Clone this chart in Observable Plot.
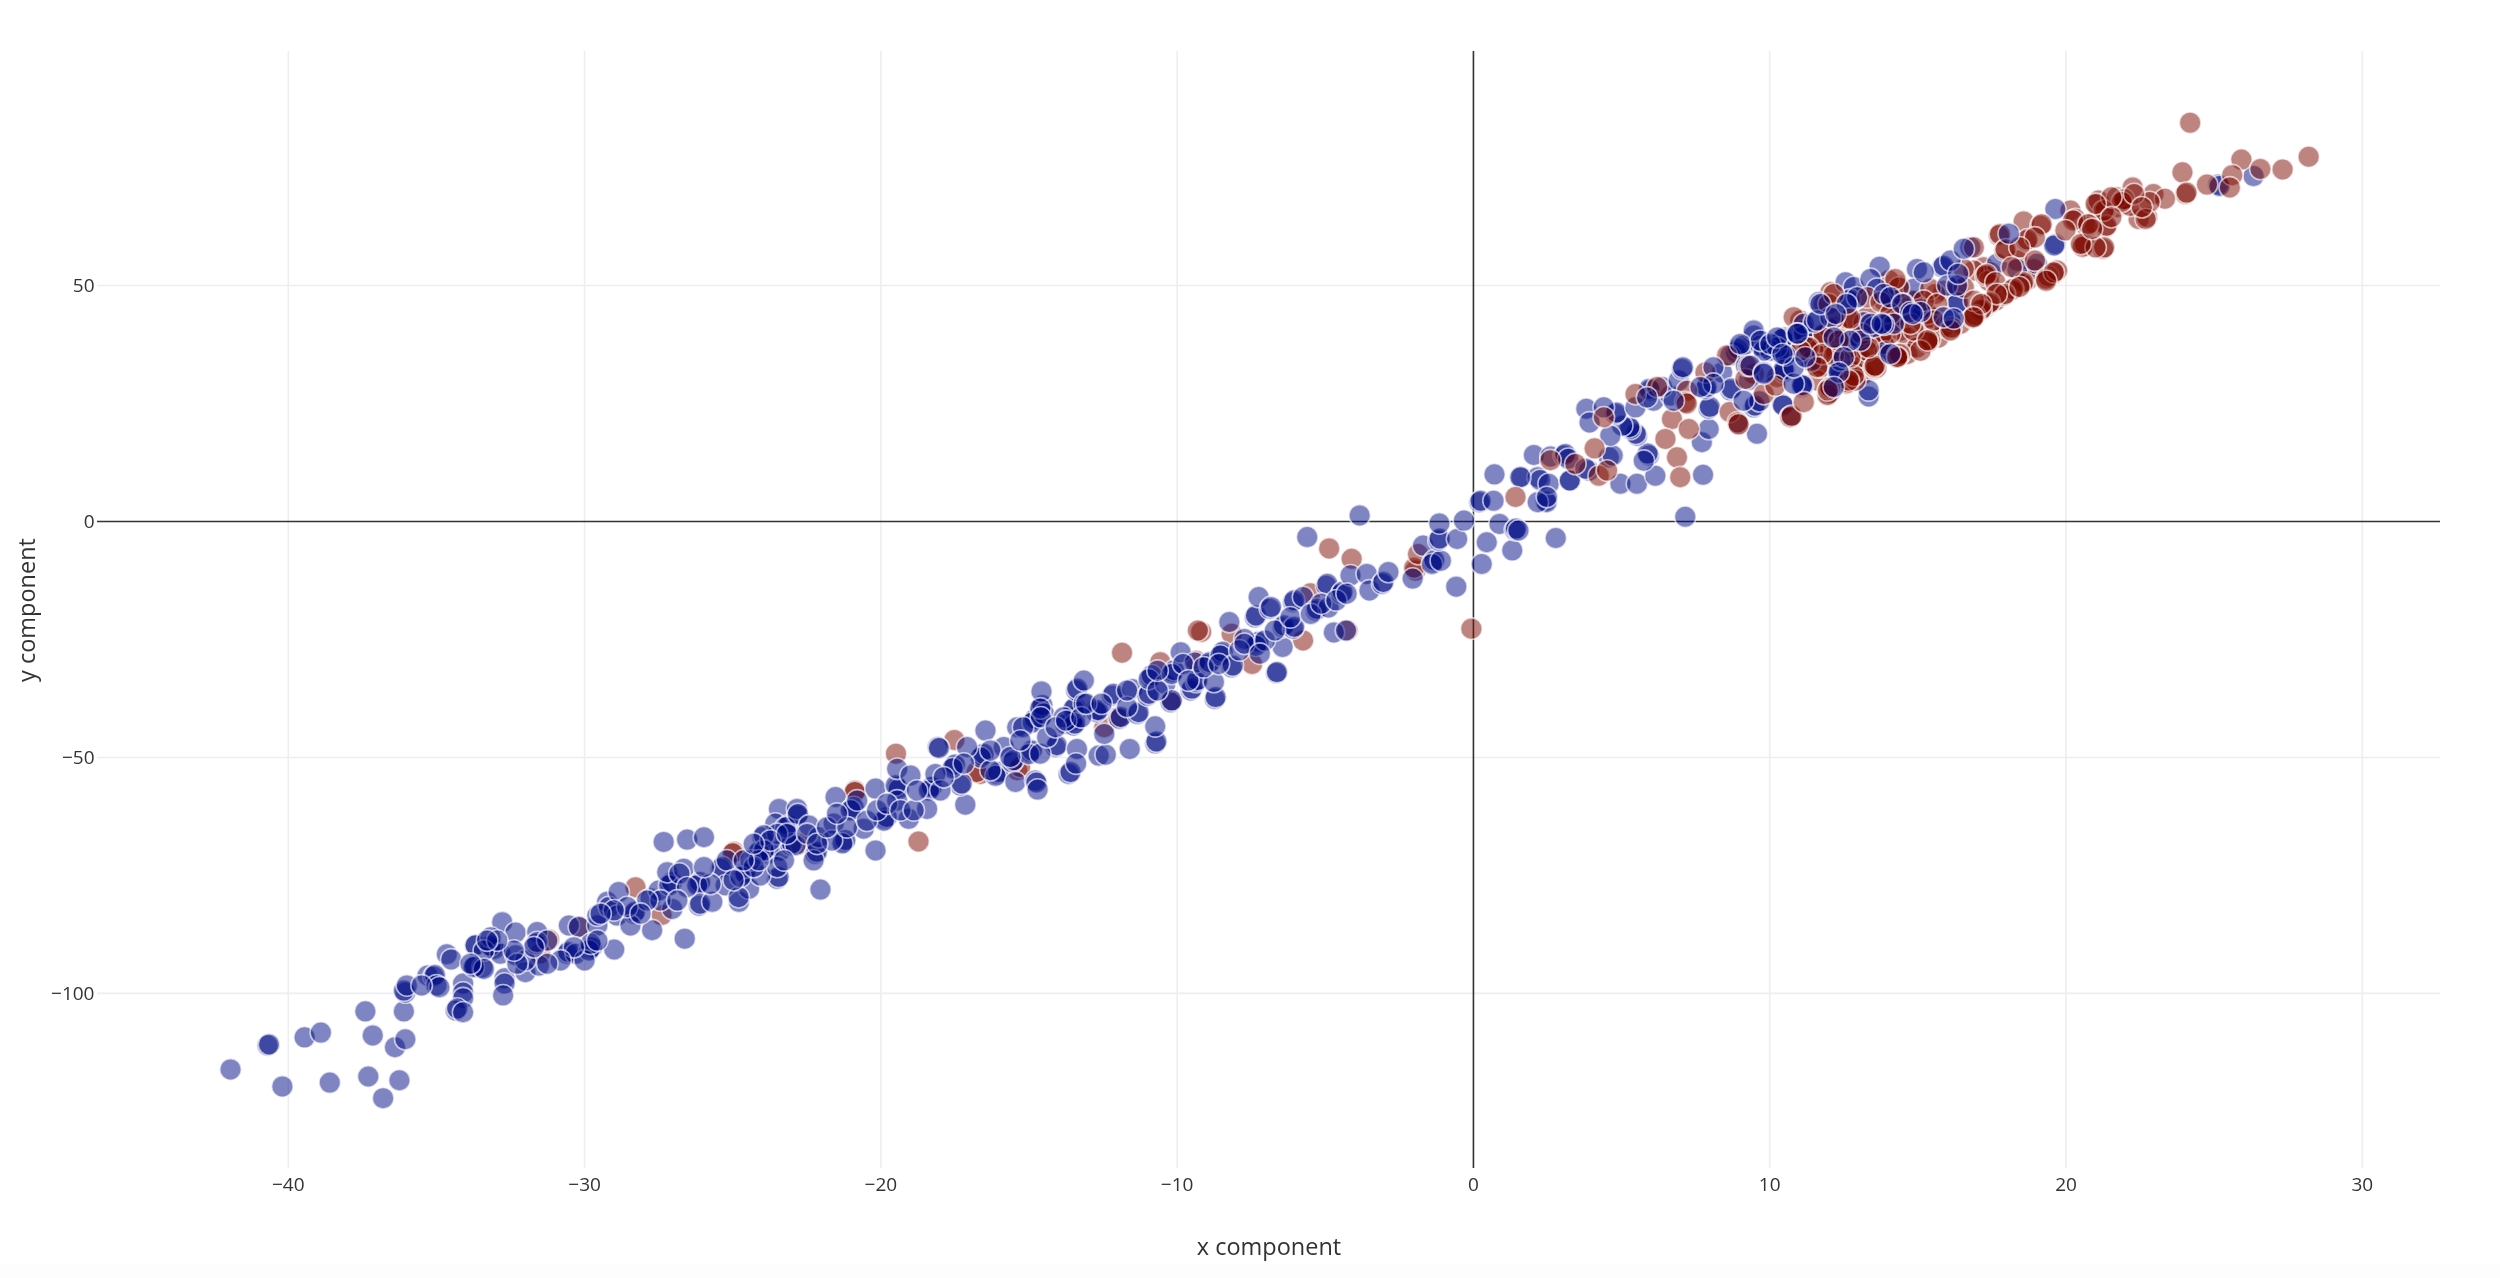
<!DOCTYPE html>
<html><head><meta charset="utf-8">
<script src="https://cdn.jsdelivr.net/npm/d3@7"></script>
<script src="https://cdn.jsdelivr.net/npm/@observablehq/plot@0.6"></script>
<style>html,body{margin:0;padding:0;overflow:hidden;height:1278px;background:linear-gradient(#fff 0,#fff 1265px,#fdfdfd 1265px,#fdfdfd 1278px)}svg{display:block;filter:blur(0.6px)}</style>
</head><body><div id="chart"></div>
<script>
const xTicks=[-40,-30,-20,-10,0,10,20,30];
const yTicks=[-100,-50,0,50];
const xDomain=[-46.44,32.64];
const yDomain=[-137.1,99.6];
const xTitle="x component", yTitle="y component";
const redEarly=[[-31.2,-88.6],[-31.5,-91.5],[-30.2,-85.9],[-28.28,-77.5],[-27.4,-83.4],[-24.96,-70],[-22.72,-68.3],[-25,-70.3],[-20.87,-57],[-20.88,-57.3],[-19.49,-49.2],[-18.73,-67.8],[-17.52,-46.3],[-16.64,-53.5],[-16.77,-53.1],[-15.4,-52.7],[-15.3,-52],[-12.46,-43.6],[-12,-41.5],[-11.86,-27.8],[-10.57,-29.8],[-10.2,-38],[-9.36,-29.5],[-9.19,-23.4],[-9.3,-23.1],[-8.16,-23.8],[-7.47,-30.2],[-5.75,-25.2],[-5.5,-15.2],[-4.87,-5.7],[-4.11,-7.9],[-4.25,-23.1],[-1.96,-10.4],[-2,-9.8],[-1.87,-6.9],[-0.07,-22.7]];
const blue=[[-41.95,-116.1],[-40.2,-119.7],[-40.7,-111],[-40.65,-110.8],[-39.45,-109.3],[-38.9,-108.3],[-38.6,-118.9],[-37.4,-103.8],[-37.15,-108.9],[-37.3,-117.6],[-36.8,-122.2],[-36.25,-118.4],[-36.4,-111.4],[-36.05,-109.7],[-36.1,-103.8],[-36.05,-99.8],[-36.1,-99.4],[-36,-98.3],[-35.3,-96.2],[-35.1,-96.4],[-35.05,-96.1],[-35,-98.3],[-34.9,-98.7],[-35.5,-98.3],[-34.65,-91.7],[-34.5,-92.8],[-33.7,-89.8],[-33.75,-94.5],[-33.7,-94.2],[-33.45,-94.5],[-34.1,-97.9],[-34.1,-99.8],[-34.1,-101],[-34.35,-103.6],[-34.3,-103.2],[-34.1,-104],[-32.7,-96.8],[-32.7,-97.9],[-32.75,-100.4],[-32.78,-84.9],[-32.33,-87.1],[-33.68,-89.8],[-33.12,-90.2],[-33.05,-90.6],[-33.18,-89.9],[-33.17,-88.1],[-32.84,-91.6],[-33.4,-90.9],[-32.33,-91.9],[-33.74,-94.4],[-33.4,-94.8],[-32,-95.5],[-31.54,-94.1],[-32,-93],[-31.6,-87],[-31.65,-89.5],[-31.6,-89.1],[-31.26,-88.8],[-30.59,-91.6],[-30.55,-91.2],[-30.3,-91.6],[-30.53,-85.6],[-30.19,-85.9],[-29.8,-90.5],[-29.75,-90.2],[-29.85,-90.9],[-29,-90.7],[-30,-93],[-29.57,-85.6],[-29.57,-83.5],[-29.24,-80.6],[-29.18,-81.7],[-28.9,-83.5],[-28.85,-78.5],[-28.34,-83.1],[-28.3,-82.7],[-28.45,-85.6],[-27.72,-86.6],[-27.77,-79.9],[-27.5,-78.2],[-27.1,-76.8],[-27.05,-76.4],[-27.15,-77.1],[-27.21,-74.3],[-26.65,-73.6],[-26.8,-74.6],[-27.04,-82.1],[-26.14,-76.8],[-26.1,-76.4],[-26.2,-77.1],[-26.14,-81.4],[-26.1,-81],[-25.69,-80.6],[-26.62,-88.4],[-27.33,-67.9],[-26.54,-67.4],[-25.97,-66.9],[-25.41,-73.6],[-25.36,-73.2],[-24.79,-80.6],[-24.62,-74.3],[-24.57,-74.6],[-24.45,-77.8],[-25.24,-77.1],[-24,-66.9],[-23.84,-70],[-23.8,-70.4],[-23.9,-69.7],[-24.17,-70.4],[-23.5,-75.7],[-23.45,-75.3],[-23.39,-69.7],[-23.44,-60.9],[-23.56,-64],[-23.16,-64.8],[-23.12,-64.4],[-22.82,-62.3],[-23.05,-68.6],[-23,-68.2],[-22.88,-68.6],[-24.8,-79.6],[-24.07,-75],[-24.12,-70],[-23.22,-64.8],[-22.83,-60.9],[-22.8,-62],[-22.21,-70.4],[-22.16,-70],[-22.27,-71.8],[-22.43,-64.4],[-22.1,-66.9],[-22.04,-78],[-21.53,-58.4],[-21.59,-64],[-21.25,-67.9],[-21.2,-67.5],[-21.3,-68.2],[-21.65,-67.6],[-20.97,-60.9],[-20.92,-60.5],[-21.02,-61.2],[-20.58,-65.1],[-20.18,-56.6],[-20.18,-69.7],[-19.85,-63],[-19.8,-62.6],[-19.9,-63.4],[-19.45,-56.3],[-19.4,-56.7],[-19.5,-55.9],[-19.45,-59.1],[-19.06,-63],[-19.45,-52.4],[-19,-53.8],[-18.33,-56.6],[-18.28,-56.2],[-18.38,-57],[-18.44,-60.9],[-17.15,-60],[-17.32,-55.9],[-17.27,-55.5],[-17.54,-51.9],[-17.5,-51.5],[-17.58,-52.3],[-18.08,-47.8],[-18.04,-48],[-18.16,-53.5],[-16.47,-44.3],[-16.58,-49.6],[-16.53,-49.2],[-16.63,-50],[-17.09,-47.8],[-16.08,-53.5],[-16.03,-53.1],[-16.13,-53.9],[-15.85,-47.8],[-15.57,-51],[-15.52,-50.6],[-15.4,-43.6],[-14.84,-42.2],[-14.8,-41.8],[-14.88,-42.6],[-14.95,-48.9],[-14.9,-48.5],[-15,-49.3],[-15.46,-55.2],[-14.79,-54.9],[-14.75,-55.3],[-14.71,-56.8],[-14.11,-47.8],[-14.06,-47.4],[-13.66,-53.5],[-13.6,-53.1],[-13.38,-48.2],[-13.49,-41.8],[-13.44,-41.4],[-13.54,-42.2],[-13.77,-42.9],[-13.44,-39.3],[-12.76,-40],[-12.65,-49.6],[-15.2,-43.6],[-14.6,-39.3],[-14.55,-38.9],[-14.58,-36],[-13.5,-39.7],[-13.5,-43.2],[-13.45,-42.8],[-13.41,-35.8],[-13.37,-35.4],[-13.15,-33.7],[-13.41,-51.3],[-12.41,-49.4],[-11.6,-48.2],[-10.74,-47],[-10.7,-46.6],[-10.74,-43.4],[-12.72,-40.4],[-12.67,-40],[-12.2,-36.9],[-12.15,-36.5],[-11.95,-41.8],[-11.9,-41.4],[-12.46,-45],[-11.34,-40.8],[-11.3,-40.4],[-11.52,-35.5],[-11,-36.9],[-10.95,-36.5],[-10.91,-33],[-10.86,-32.6],[-10.96,-33.4],[-10.4,-34.4],[-10.14,-31.9],[-10.1,-31.5],[-10.18,-32.3],[-10.22,-38.3],[-10.18,-37.9],[-9.54,-35.8],[-9.5,-35.4],[-9.36,-34],[-9.32,-33.6],[-8.73,-37.6],[-8.7,-37.2],[-8.76,-34],[-9.88,-27.7],[-9.4,-29.9],[-8.93,-30.2],[-8.9,-29.8],[-8.5,-28],[-8.46,-27.6],[-8.54,-28.4],[-8.16,-30.9],[-8.12,-30.5],[-8.24,-21.3],[-7.3,-25.9],[-7.26,-25.5],[-7.34,-26.3],[-7.73,-24.9],[-7.38,-20.3],[-7.34,-19.9],[-7.25,-16],[-6.66,-32.1],[-6.63,-31.9],[-6.87,-18.5],[-6.83,-18.1],[-6.44,-26.6],[-6.44,-22.4],[-6.4,-22],[-6.09,-22.7],[-6.05,-22.3],[-6.09,-17.1],[-6.05,-16.7],[-5.75,-16],[-5.32,-18.9],[-5.28,-18.5],[-4.97,-13.6],[-4.93,-13.2],[-4.89,-18.2],[-4.46,-15.3],[-4.42,-14.9],[-4.71,-23.5],[-4.3,-23.1],[-4.15,-11.4],[-3.6,-11.1],[-3.51,-14.6],[-3.08,-13.2],[-3.04,-12.8],[-2.87,-10.7],[-5.61,-3.3],[-3.84,1.3],[-1.7,-5.1],[-1.36,-8.6],[-1.32,-8.2],[-1.4,-9],[-1.1,-8.3],[-2.05,-12.1],[-1.18,-4],[-1.14,-3.6],[-1.15,-0.4],[-0.55,-3.7],[-0.32,0.2],[-0.58,-13.8],[0.28,-9],[0.2,4.1],[0.24,4.4],[0.68,4.4],[0.45,-4.4],[0.88,-0.5],[1.31,-6.1],[1.4,-1.8],[1.44,-1.5],[1.52,-1.9],[2.78,-3.5],[0.71,10],[1.62,9.4],[2.17,9.4],[2.25,8.8],[2.43,4.4],[2.47,4.1],[2.17,4.1],[3.26,8.7],[2.04,14.1],[2.6,13.8],[3.05,14],[3.1,14.3],[3.2,13.3],[3.9,10.8],[1.58,9.4],[2.54,8],[2.48,5.2],[3.25,8.7],[3.78,11.2],[4.57,13.6],[4.7,14],[4.96,8],[5.52,8],[6.14,9.7],[5.92,14],[5.88,14.4],[5.75,12.9],[7.75,9.9],[7.71,16.8],[7.94,19.6],[7.94,23.9],[7.98,24.3],[5.52,18.2],[5.48,18.6],[5.3,19.6],[5.26,20],[5.02,20.3],[4.62,18.2],[4.79,22.8],[4.83,23.1],[3.81,23.9],[3.92,21],[4.4,24.2],[5.47,24.2],[5.97,27.8],[5.93,28.1],[6.08,25.6],[6.65,26.7],[6.37,28.5],[6.93,29.9],[7.04,32.3],[7.07,32.7],[7.83,28.1],[7.87,28.5],[8.39,31.6],[8.67,27.8],[8.71,28.2],[9.46,39.4],[9.46,24.2],[9.5,24.6],[9.65,25.5],[10.42,24.9],[10.45,24.6],[9.57,18.6],[13.34,26.5],[8.9,36.2],[8.86,35.8],[8.94,36.6],[8.67,35.2],[9.12,37.3],[9.8,36.9],[10.3,35.9],[10.35,36.2],[10.47,31.6],[10.51,32],[10.53,39],[11.09,28.5],[11.13,28.8],[11.15,40.5],[10.6,35.6],[12.38,32],[7.15,1],[8.93,20.7],[10.69,22.2],[9.3,30],[9.2,33],[13.71,54],[14.97,53.5],[15.82,53.9],[15.87,54.2],[19.64,66.2],[19.64,58.8],[19.6,58.5],[12.56,50.7],[12.84,49.7],[12.67,46.8],[12.71,47.1],[11.66,46.5],[13.4,51.4],[14.86,49.3],[13.62,49.3],[16.32,46.1],[16.36,46.4],[14.86,44],[13.85,41.9],[16.1,42.6],[10.87,39.8],[10.47,39],[10.43,38.7],[11.15,39.8],[9.69,37.3],[10.02,36.2],[10.47,32.2],[11.09,28.9],[9.46,40.5],[12.33,32],[13.34,27.8],[18.35,53.5],[19.02,54.6],[17.67,54.6],[16.77,58.1],[13,39],[13.17,42.2],[12.39,34.1],[14.1,47.5],[15.1,45],[12,41],[11.4,34],[13.9,36],[26.33,73.2],[25.14,71.4],[25.18,71.1]];
const blueMore=[[-23.5,-66.2],[-23.95,-66.5],[-24.4,-71.8],[-24.74,-75.3],[-25.75,-76.8],[-25.2,-71.8],[-25.97,-73.2],[-26.54,-77.5],[-27.44,-80.3],[-26.87,-80.3],[-27.89,-80.3],[-28.56,-81.7],[-28.11,-83.1],[-29.01,-82.4],[-29.46,-83.1],[-29.8,-89.5],[-29.57,-88.8],[-30.36,-90.2],[-30.81,-93],[-31.26,-93.7],[-31.71,-90.2],[-32.27,-93.7],[-32.39,-90.9],[-32.95,-88.8],[-33.29,-88.8],[-33.85,-93.7],[-23.95,-69.7],[-24.29,-73.2],[-23.5,-73.2],[-23.27,-71.8],[-24.12,-71.8],[-23.73,-67.6],[-24.63,-71.8],[-24.97,-76],[-24.29,-68.3],[-23.17,-66.2],[-22.49,-66.2],[-22.15,-68.3],[-21.82,-64.8],[-21.14,-64.8],[-20.47,-63.4],[-20.13,-61.2],[-20.8,-59.1],[-21.48,-61.9],[-19.79,-59.8],[-19.34,-61.2],[-18.89,-61.2],[-18.78,-57],[-17.99,-57],[-17.88,-54.2],[-17.2,-51.3],[-16.3,-52.7],[-16.3,-48.5],[-15.63,-49.9],[-15.29,-46.4],[-14.62,-49.2],[-14.39,-45.7],[-14.5,-40.7],[-13.83,-41.5],[-14.62,-39.6],[-13.15,-38.6],[-14.6,-41.5],[-14.1,-43.6],[-13.75,-42.2],[-13.24,-41.5],[-13.07,-38.6],[-12.55,-38.6],[-11.69,-39.3],[-11.69,-35.8],[-10.66,-35.8],[-10.66,-31.6],[-9.8,-30.2],[-9.62,-33.7],[-9.11,-30.9],[-8.59,-30.2],[-7.9,-27.3],[-7.73,-25.9],[-7.04,-25.2],[-6.7,-23.1],[-6.18,-20.3],[-5.49,-19.6],[-5.14,-17.4],[-4.63,-16.7],[-4.28,-15.3],[-7.21,-28],[9.8,36.2],[10.25,36.9],[10.53,35.2],[9.69,38.3],[9.35,33],[9.8,31.6],[10.81,29.2],[11.15,41.9],[11.49,42.2],[12.05,43.3],[12.95,47.5],[13.85,48.2],[14.07,47.5],[14.47,46.1],[14.75,44.4],[15.09,44.4],[15.87,43.3],[16.21,43],[15.2,52.8],[16.1,55.3],[15.99,50],[16.32,50],[18.07,61],[16.55,57.8],[13.51,41.2],[13.06,38.3],[14.19,41.9],[12.72,38.3],[14.07,35.5],[12.5,34.8],[12.33,31.6],[12.16,28.5],[9,37.6],[10.02,37.6],[10.25,39],[10.92,39.8],[10.81,32.7],[12.16,39],[13.85,41.7],[13.4,41.9],[11.6,42.6],[12.6,46.1],[11.71,46.1],[9.8,31.3],[9.12,25.6],[8.1,32.7],[8.1,29.2],[7.66,28.5],[5.86,26.3],[6.76,25.6],[16.36,52.5],[14.82,44],[13.78,41.9],[12.23,44],[10.94,39.8],[10.43,35.5],[11.2,34.8]];
const redLate=[[2.6,13],[3.44,12.2],[1.42,5.2],[4.09,15.5],[4.23,9.7],[4.51,10.8],[4.4,22.1],[5.47,27],[6.2,28.5],[7.83,31.6],[7.21,27.7],[7.15,25.3],[7.2,25],[6.7,21.7],[6.48,17.5],[7.27,19.6],[6.87,13.6],[6.98,9.4],[8.65,23.2],[8.92,21],[8.95,20.6],[9.18,30.2],[9.29,33],[9.8,27],[10.7,22.1],[10.74,22.4],[11.15,25.3],[11.99,27],[12.03,27.3],[11.95,26.8],[12.61,29.2],[12.65,29.5],[12.89,29.9],[13.56,32.3],[13.6,32.6],[14.3,35.2],[14.34,35.5],[11.82,39.8],[12.66,42.9],[11.26,36.9],[12.16,35.2],[13.11,39.8],[12.33,38.7],[13.28,36.2],[10.81,43.3],[11.99,46.1],[10.19,28.8],[8.56,35.2],[21.95,67.3],[21.1,68],[21.33,65.9],[22.17,66.9],[21.72,68.7],[22.74,64.5],[21.33,62.4],[21.37,62.7],[20.71,62.4],[20.32,64.1],[20.6,58.5],[20.64,58.8],[20.56,58.2],[21.25,57.8],[21.29,58.1],[18.57,63.6],[19.14,62.7],[19.18,63],[18.66,59.5],[18.7,59.8],[17.73,60.6],[17.77,60.9],[17.92,57.4],[17.96,57.7],[16.89,58.1],[16.55,53.5],[17.28,52.1],[17.32,52.4],[17.62,50.7],[19.36,51.7],[19.4,52],[19.32,51.4],[19.7,53.2],[18.52,50.4],[18.56,50.7],[18.18,49],[18.22,49.3],[17.9,47.9],[17.94,48.2],[17.39,46.1],[17.43,46.4],[17.11,44.7],[17.15,45],[16.89,43.4],[16.93,43.7],[16.85,43.1],[16.1,40.8],[16.14,41.1],[15.37,38.3],[15.41,38.6],[15.33,38],[14.86,40.5],[15.09,36.2],[14.36,35.2],[14.4,35.5],[14.32,34.9],[13.51,32.7],[13.55,33],[12.84,30.9],[12.67,29.9],[12,28.1],[12.04,28.4],[11.96,27.8],[14.36,49.6],[12.72,43],[11.82,39.6],[11.32,36.9],[12.33,38.3],[13.29,47.5],[15.42,49.3],[13.74,46.5],[12.16,48.2],[14.24,51.4],[15.2,46.8],[14.52,46.1],[16.55,49.6],[15.65,46.1],[16.89,46.8],[14.75,41.9],[14.07,44],[11.77,35.5],[12.72,34.8],[13.34,36.9],[11.6,32.7],[14.07,39.8],[15.54,42.6],[12.16,43],[11.04,36.2],[24.19,84.5],[28.19,77.3],[25.92,76.7],[27.31,74.6],[23.93,74],[24.03,69.4],[24.07,69.7],[26.56,74.7],[25.61,73.4],[24.76,71.4],[25.53,70.8],[22.95,69.4],[23.34,68.4],[22.82,67.7],[22.25,70.8],[21.92,68],[21.96,68.3],[21.88,67.7],[22.69,64.1],[21.27,65.9],[20.24,63.8],[20.75,63],[19.98,61.7],[18.95,60.2],[18.43,58.1],[21,58.1],[20.5,58.8],[18.95,55.3],[18.17,53.9],[19.59,52.8],[19.33,51],[18.43,49.7],[17.66,48.2],[17.14,46.1],[16.88,43.3],[16.1,40.5],[15.33,38.4],[14.3,34.8],[22.3,69.4],[22.56,66.6],[21.53,68.7],[21,67.3],[21.53,64.5],[20.88,62]];
const redMore=[[11.82,46.1],[12.05,48.6],[14.19,46.1],[13.85,46.8],[13.06,47.9],[12.72,43.3],[14.36,50],[14.02,51.1],[14.97,46.8],[15.87,48.9],[17.22,53.9],[17.45,52.8],[18.35,55.3],[18.91,53.5],[20.94,63.4],[20.15,65.9],[21.72,66.6],[22.45,64.1],[21.05,67.3],[12.27,39],[11.82,38.3],[11.26,37.6],[11.94,35.5],[11.37,34.1],[12.95,35.2],[12.72,32],[13.17,31.3],[12.27,29.9],[14.41,40.5],[14.64,39],[13.85,37.6],[13.4,39],[13.96,35.5],[14.64,35.5],[14.97,36.9],[15.7,39],[16.44,41.9],[17.28,45.4],[17.62,46.8],[18.69,51.1],[19.59,52.5],[15.42,43.3],[15.87,41.2],[15.2,41.9],[14.19,43.3],[11.03,37.6],[11.48,36.2],[11.71,33.4],[12.83,32],[11.6,29.9],[13.06,34.8],[13.85,37.6],[12.72,36.9],[9.46,31.3],[10.25,30.6],[11.03,42.6],[12.27,41.2],[13.28,43.3],[16.88,53.2],[17.4,51],[16.36,49.6],[15.59,48.2],[14.82,46.8],[15.33,44],[14.3,42.6],[13.78,39.8],[12.75,38.4],[12.23,35.5],[11.72,32.7],[13.27,36.9]];
const toRows=a=>a.map(([x,y])=>({x,y}));
const dotStyle={x:"x",y:"y",r:10.8,fillOpacity:0.5,stroke:"#fff",strokeOpacity:0.65,strokeWidth:1.6};
const chart=Plot.plot({
  width:2500,height:1278,
  marginLeft:97,marginRight:60,marginTop:51,marginBottom:110,
  style:{background:"transparent",fontFamily:"'Open Sans',sans-serif",color:"#444"},
  x:{domain:xDomain,ticks:xTicks},
  y:{domain:yDomain,ticks:yTicks},
  marks:[
    Plot.ruleX(xTicks.filter(d=>d!==0),{stroke:"#eee",strokeWidth:1.6,strokeOpacity:1}),
    Plot.ruleY(yTicks.filter(d=>d!==0),{stroke:"#eee",strokeWidth:1.6,strokeOpacity:1}),
    Plot.ruleX([0],{stroke:"#333",strokeWidth:1.6}),
    Plot.ruleY([0],{stroke:"#333",strokeWidth:1.6}),
    Plot.dot(toRows(redEarly),{...dotStyle,fill:"#7d0a00"}),
    Plot.dot(toRows(redMore),{...dotStyle,fill:"#7d0a00"}),
    Plot.dot(toRows(blue),{...dotStyle,fill:"#000c85"}),
    Plot.dot(toRows(redLate),{...dotStyle,fill:"#7d0a00"}),
    Plot.dot(toRows(blueMore),{...dotStyle,fill:"#000c85"}),
    Plot.axisX({ticks:xTicks,tickSize:0,tickPadding:9,label:null,fill:"#333",fontSize:19}),
    Plot.axisY({ticks:yTicks,tickSize:0,tickPadding:3,label:null,fill:"#333",fontSize:19}),
    Plot.text([xTitle],{frameAnchor:"bottom",dy:79,fontSize:23.5,fill:"#333",lineAnchor:"middle"}),
    Plot.text([yTitle],{frameAnchor:"left",dx:-70,rotate:-90,fontSize:23.5,fill:"#333",textAnchor:"middle"})
  ]
});
document.getElementById("chart").append(chart);
</script></body></html>
